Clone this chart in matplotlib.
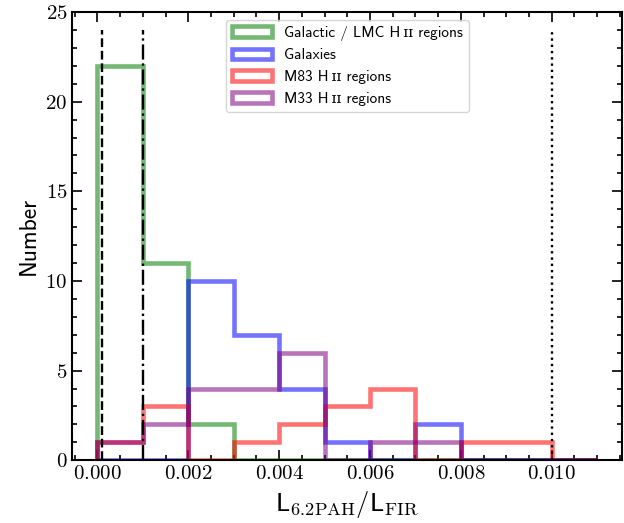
import numpy as np
from matplotlib import pyplot as plt
from matplotlib.ticker import MultipleLocator

plt.rcParams["mathtext.fontset"] = "cm"
plt.rcParams["axes.formatter.use_mathtext"] = True

#  -------------------------------------------  data  ------------------------------------------  #

edges = np.arange(0, 0.0111, 0.001)

galactic = [22, 11, 2, 0, 0, 0, 0, 0, 0, 0, 0]
galaxies = [0, 0, 10, 7, 4, 1, 0, 2, 0, 0, 0]
m83 = [1, 3, 0, 1, 2, 3, 4, 0, 1, 1, 0]
m33 = [1, 2, 4, 4, 6, 0, 1, 1, 0, 0, 0]

labels = ["Galactic / LMC H\u2009ɪɪ regions", "Galaxies",
          "M83 H\u2009ɪɪ regions", "M33 H\u2009ɪɪ regions"]
colors = ["green", "blue", "red", "purple"]

vlines = [0.0001, 0.001, 0.010]
vstyles = ["--", "-.", ":"]
vtop = 24

#  -------------------------------------------  plot  ------------------------------------------  #

fig, ax = plt.subplots(figsize=(6.24, 5.23), dpi=100)
fig.subplots_adjust(left=0.116, right=0.997, top=0.977, bottom=0.12)

centers = edges[:-1] + 0.0005
for counts, lab, c in zip([galactic, galaxies, m83, m33], labels, colors):
    ax.hist(centers, bins=edges, weights=counts, histtype="step",
            color=c, alpha=0.55, lw=3.3, label=lab)

for x, ls in zip(vlines, vstyles):
    ax.plot([x, x], [0, vtop], color="k", ls=ls, lw=1.7)

ax.set_xlim(-0.00055, 0.01155)
ax.set_ylim(0, 25)

ax.xaxis.set_major_locator(MultipleLocator(0.002))
ax.xaxis.set_minor_locator(MultipleLocator(0.0005))
ax.yaxis.set_major_locator(MultipleLocator(5))
ax.yaxis.set_minor_locator(MultipleLocator(1))
ax.tick_params(which="both", direction="in", top=True, right=True, width=1.2,
               labelsize=15, labelfontfamily="cmr10")
ax.tick_params(which="major", length=7)
ax.tick_params(which="minor", length=3.5)
for s in ax.spines.values():
    s.set_linewidth(1.5)

ax.set_xlabel(r"L$_{\rm 6.2PAH}/$L$_{\rm FIR}$", fontsize=19, family="cmss10")
ax.set_ylabel("Number", fontsize=17, family="cmss10")

leg = ax.legend(loc="upper center", handlelength=2.6,
                prop={"family": ["cmss10", "DejaVu Serif"], "size": 11})

plt.savefig("out.png", dpi=100)
